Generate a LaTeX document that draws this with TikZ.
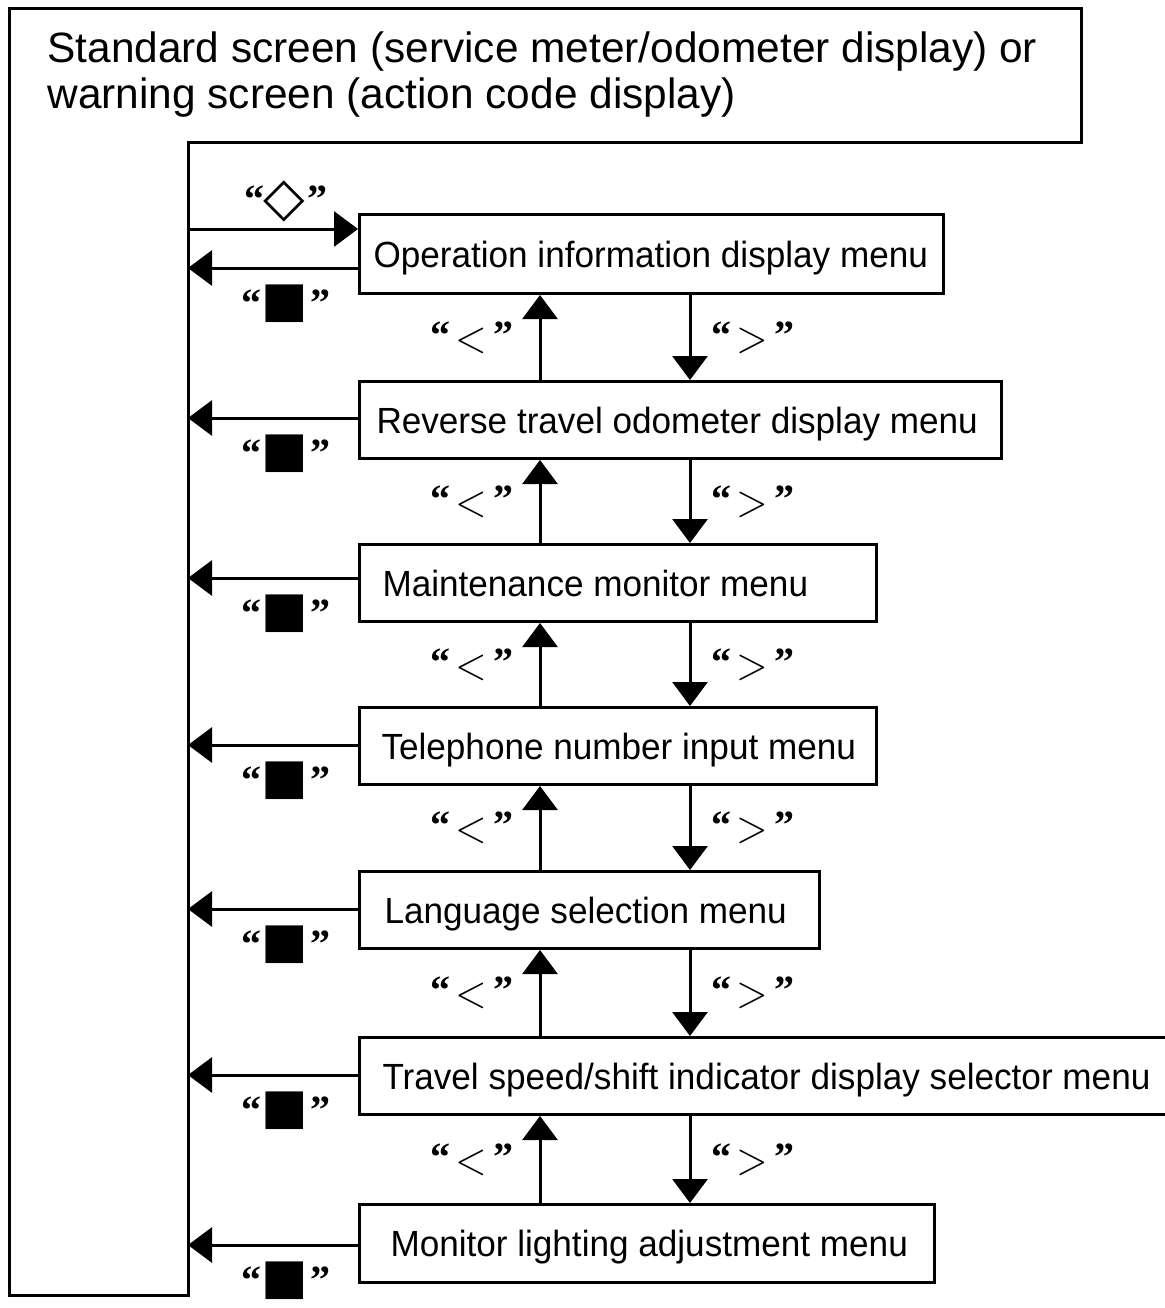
\documentclass[tikz,border=0pt]{standalone}
\usepackage{fontspec}
\usepackage{graphicx}
\setmainfont{Liberation Sans}
\newfontfamily\boxfont{Liberation Sans}[FakeStretch=0.965]
\newfontfamily\qfont{Liberation Serif}
\newfontfamily\symfont{DejaVu Sans}
\usetikzlibrary{arrows.meta}
\newcommand\qo{{\qfont\bfseries\fontsize{20}{20}\selectfont “}}
\newcommand\qc{{\qfont\bfseries\fontsize{20}{20}\selectfont ”}}
\newcommand\sqlab[1]{\qo\hspace{0pt}#1\hspace{1.5pt}\qc}
\newcommand\dmlab[1]{\qo\hspace{-0.5pt}#1\hspace{1.5pt}\qc}
\newcommand\keylab[1]{\qo\hspace{2.5pt}#1\hspace{3.5pt}\qc}
\newcommand\blacksq{{\symfont\fontsize{24.6}{24.6}\selectfont ■}}
\newcommand\whitediam{{\symfont\fontsize{27}{27}\selectfont\raisebox{-1.5pt}{◇}}}
\newcommand\keyless{{\fontsize{22}{22}\selectfont\raisebox{-2pt}{\scalebox{1}[1.12]{$<$}}}}
\newcommand\keymore{{\fontsize{22}{22}\selectfont\raisebox{-2pt}{\scalebox{1}[1.12]{$>$}}}}
\newcommand\menutext[2]{\makebox[#1][l]{#2}}
\begin{document}
\begin{tikzpicture}[x=0.5pt,y=-0.5pt,line width=1.5pt,
  menu/.style={draw,line width=1.5pt,anchor=north west,inner ysep=0pt,
    font=\boxfont\fontsize{18.2}{22}\selectfont,
    text height=13pt,text depth=0pt},
  arr/.style={-{Triangle[width=17.5pt,length=12pt]},line width=1.5pt},
  keylabel/.style={inner sep=0pt}]
\useasboundingbox (0,0) rectangle (1164,1308);
% outer frame
\draw[line width=1.5pt] (9,8) -- (1081,8) -- (1081,142) -- (188,142) -- (188,1295) -- (9,1295) -- cycle;
\node[anchor=north west,align=left,inner sep=0pt,font=\fontsize{21.2}{23}\selectfont] (title) at (46,30)
  {Standard screen (service meter/odometer display) or\\warning screen (action code display)};
% menus
\node[menu,inner xsep=7pt,minimum height=39.5pt] (m1) at (358,213) {\menutext{278pt}{Operation information display menu}};
\node[menu,inner xsep=8.5pt,minimum height=38.5pt] (m2) at (358,380) {\menutext{304pt}{Reverse travel odometer display menu}};
\node[menu,inner xsep=11.5pt,minimum height=38.5pt] (m3) at (358,543) {\menutext{235.5pt}{Maintenance monitor menu}};
\node[menu,inner xsep=11pt,minimum height=38.5pt] (m4) at (358,706) {\menutext{236.5pt}{Telephone number input menu}};
\node[menu,inner xsep=12.5pt,minimum height=38.5pt] (m5) at (358,870) {\menutext{205pt}{Language selection menu}};
\node[menu,inner xsep=11.5pt,minimum height=38.5pt] (m6) at (358,1036) {\menutext{383pt}{Travel speed/shift indicator display selector menu}};
\node[menu,inner xsep=15.5pt,minimum height=39pt] (m7) at (358,1203) {\menutext{256.5pt}{Monitor lighting adjustment menu}};
% entry arrow
\coordinate (e0) at (188,229);
\draw[arr] (e0) -- (m1.west |- e0);
\node[keylabel] (l0) at (286,201) {\dmlab{\whitediam}};
% exit arrows
\foreach \m/\y in {m1/268,m2/418,m3/578,m4/745,m5/909,m6/1075,m7/1245}{
  \coordinate (x\m) at (188,\y);
  \draw[arr] (\m.west |- x\m) -- (x\m);
  \node[keylabel] (s\m) at (286,\y+36) {\sqlab{\blacksq}};
}
% up/down arrows
\foreach \a/\b in {m1/m2,m2/m3,m3/m4,m4/m5,m5/m6,m6/m7}{
  \coordinate (u\b) at (540,0);
  \coordinate (d\b) at (690,0);
  \draw[arr] (\b.north -| u\b) -- (\a.south -| u\b);
  \draw[arr] (\a.south -| d\b) -- (\b.north -| d\b);
  \path (\a.south) -- (\b.north) coordinate[pos=0.5] (g\b);
  \node[keylabel] (lt\b) at (g\b -| 472,0) {\keylab{\keyless}};
  \node[keylabel] (gt\b) at (g\b -| 753,0) {\keylab{\keymore}};
}
\end{tikzpicture}
\end{document}
